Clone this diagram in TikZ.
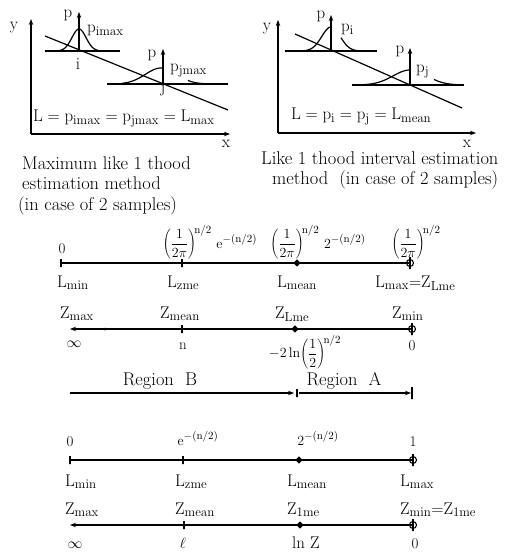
\RequirePackage{fix-cm}
\documentclass[tikz,border=0pt]{standalone}
\usetikzlibrary{arrows.meta,shapes.geometric}
\DeclareMathSizes{17}{17}{13}{10}
\DeclareMathSizes{14}{14}{11}{9}
\newcommand{\dfr}[2]{{\displaystyle\frac{#1}{#2}}}
\tikzset{
 ln/.style={line width=1.2bp},
 ax/.style={line width=1.2bp,-{Stealth[length=6bp,width=4.5bp]}},
 lbl/.style={inner sep=0pt,font=\fontsize{17}{20}\selectfont},
 captxt/.style={inner sep=0pt,font=\fontsize{18.5}{22}\selectfont,anchor=base west},
 fml/.style={inner sep=0pt,font=\fontsize{14}{16}\selectfont},
 num/.style={inner sep=0pt,font=\fontsize{15}{17}\selectfont},
 tk/.style={draw,line width=1.1bp,minimum width=0pt,minimum height=8bp,inner sep=0pt},
 tkl/.style={tk,minimum height=12bp},
 dm/.style={diamond,fill,inner sep=0pt,minimum size=7.5bp},
 cr/.style={circle,draw,line width=1.1bp,inner sep=0pt,minimum size=7bp},
 dt/.style={circle,fill,inner sep=0pt,minimum size=3bp},
}
\begin{document}
\begin{tikzpicture}[x=1bp,y=-1bp]
\useasboundingbox (0,0) rectangle (508,554);
% ---------- panel 1
\coordinate (o1) at (31,134); \coordinate (ye1) at (31,19); \coordinate (xe1) at (230,134);
\draw[ax] (o1)--(ye1); \draw[ax] (o1)--(xe1);
\node[lbl,anchor=base] (y1) at (14,30) {y};
\node[lbl,anchor=base] (x1) at (226,148) {x};
\coordinate (ba1) at (45,51); \coordinate (bb1) at (120,51); \draw[ln] (ba1)--(bb1);
\coordinate (pi) at (79,51); \coordinate (pit) at (79,12); \draw[ax] (pi)--(pit);
\draw[ln] plot[domain=53:107,samples=60,smooth] (\x,{51-22*exp(-((\x-79)/10)*((\x-79)/10))});
\coordinate (la1) at (45,36); \coordinate (lb1) at (228,110); \draw[ln] (la1)--(lb1);
\node[lbl,anchor=base] (p1) at (68,18) {p};
\node[lbl,anchor=base west] (pimax) at (87,33) {$\mathrm{p_{imax}}$};
\node[lbl,anchor=base] (ilab) at (78,70) {i};
\coordinate (ca1) at (107,84); \coordinate (cb1) at (228,84); \draw[ln] (ca1)--(cb1);
\coordinate (pj) at (163,84); \coordinate (pjt) at (163,49); \draw[ax] (pj)--(pjt);
\draw[ln] plot[domain=122:163,samples=40,smooth] (\x,{84-16*exp(-((\x-161)/22)*((\x-161)/22))});
\draw[ln] plot[domain=188:207,samples=20,smooth] (\x,{84-16*exp(-((\x-161)/22)*((\x-161)/22))});
\node[lbl,anchor=base] (p2) at (152,58) {p};
\node[lbl,anchor=base west] (pjmax) at (170,72) {$\mathrm{p_{jmax}}$};
\node[lbl,anchor=base] (jlab) at (163,93) {j};
\node[lbl,anchor=base west] (eq1) at (33,122) {$\mathrm{L=p_{imax}=p_{jmax}=L_{max}}$};
% ---------- panel 2
\coordinate (o2) at (278,133); \coordinate (ye2) at (278,20); \coordinate (xe2) at (476,133);
\draw[ax] (o2)--(ye2); \draw[ax] (o2)--(xe2);
\node[lbl,anchor=base] (y2) at (267,31) {y};
\node[lbl,anchor=base] (x2) at (467,148) {x};
\coordinate (ba2) at (285,51); \coordinate (bb2) at (377,51); \draw[ln] (ba2)--(bb2);
\coordinate (qi) at (331,51); \coordinate (qit) at (331,15); \draw[ax] (qi)--(qit);
\draw[ln] plot[domain=298:331,samples=40,smooth] (\x,{51-24*exp(-((\x-331)/13)*((\x-331)/13))});
\draw[ln] plot[domain=341:361,samples=20,smooth] (\x,{51-24*exp(-((\x-331)/13)*((\x-331)/13))});
\coordinate (la2) at (295,34); \coordinate (lb2) at (462,108); \draw[ln] (la2)--(lb2);
\node[lbl,anchor=base] (p3) at (321,19) {p};
\node[lbl,anchor=base west] (pil) at (341,32) {$\mathrm{p_i}$};
\coordinate (ca2) at (352,85); \coordinate (cb2) at (464,85); \draw[ln] (ca2)--(cb2);
\coordinate (qj) at (410,85); \coordinate (qjt) at (410,48); \draw[ax] (qj)--(qjt);
\draw[ln] plot[domain=364:410,samples=40,smooth] (\x,{85-15*exp(-((\x-410)/24)*((\x-410)/24))});
\draw[ln] plot[domain=434:461,samples=20,smooth] (\x,{85-15*exp(-((\x-410)/24)*((\x-410)/24))});
\node[lbl,anchor=base] (p4) at (400,54) {p};
\node[lbl,anchor=base west] (pjl) at (416,73) {$\mathrm{p_j}$};
\node[lbl,anchor=base west] (eq2) at (291,120) {$\mathrm{L=p_i=p_j=L_{mean}}$};
% ---------- captions
\node[captxt] (c1a) at (22,170) {Maximum like 1 thood};
\node[captxt] (c1b) at (22,190) {estimation method};
\node[captxt] (c1c) at (18,211) {(in case of 2 samples)};
\node[captxt] (c2a) at (261,165) {Like 1 thood interval estimation};
\node[captxt] (c2b) at (272,185) {method\ \ (in case of 2 samples)};
% ---------- line 1
\coordinate (a1) at (61,263); \coordinate (b1) at (182,263); \coordinate (m1) at (297,263); \coordinate (d1) at (410,263);
\draw[ln] (a1)--(d1);
\node[tk] (ta1) at (a1) {}; \node[tk] (tb1) at (b1) {}; \node[dm] (dm1) at (m1) {};
\node[cr] (cr1) at (d1) {}; \node[tkl] (td1) at (d1) {};
\node[num,anchor=base] (z1) at (62,253) {0};
\node[fml,anchor=base] (fa) at (210,248) {$\left(\dfr{1}{2\pi}\right)^{\!\mathrm{n}/2}\,\mathrm{e}^{-(\mathrm{n}/2)}$};
\node[fml,anchor=base] (fb) at (318,248) {$\left(\dfr{1}{2\pi}\right)^{\!\mathrm{n}/2}\,2^{-(\mathrm{n}/2)}$};
\node[fml,anchor=base] (fc) at (416,248) {$\left(\dfr{1}{2\pi}\right)^{\!\mathrm{n}/2}$};
\node[lbl,anchor=base west] (lmin1) at (57,287) {$\mathrm{L_{min}}$};
\node[lbl,anchor=base west] (lzme1) at (167,287) {$\mathrm{L_{zme}}$};
\node[lbl,anchor=base west] (lmean1) at (277,287) {$\mathrm{L_{mean}}$};
\node[lbl,anchor=base west] (lmax1) at (375,287) {$\mathrm{L_{max}{=}Z_{Lme}}$};
% ---------- line 2
\node[lbl,anchor=base west] (zmax1) at (60,318) {$\mathrm{Z_{max}}$};
\node[lbl,anchor=base west] (zmean1) at (160,318) {$\mathrm{Z_{mean}}$};
\node[lbl,anchor=base west] (zlme1) at (275,318) {$\mathrm{Z_{Lme}}$};
\node[lbl,anchor=base west] (zmin1) at (392,318) {$\mathrm{Z_{min}}$};
\coordinate (a2) at (70,329); \coordinate (e2) at (105,329); \coordinate (b2) at (182,329); \coordinate (m2) at (295,329); \coordinate (d2) at (412,329);
\draw[ax] (d2)--(a2);
\node[dt] (dt2) at (e2) {}; \node[tk] (tb2) at (b2) {}; \node[dm] (dm2) at (m2) {};
\node[cr] (cr2) at (d2) {}; \node[tkl] (td2) at (d2) {};
\node[num,anchor=base] (inf1) at (74,347) {$\infty$};
\node[num,anchor=base] (n1) at (183,349) {n};
\node[fml] (fd) at (305,352) {$-2\,\mathrm{ln}\!\left(\dfr{1}{2}\right)^{\!\mathrm{n}/2}$};
\node[num,anchor=base] (z2) at (412,350) {0};
% ---------- regions
\node[lbl,anchor=base,font=\fontsize{18.5}{21}\selectfont] (rb) at (160,385) {Region\ \ B};
\node[lbl,anchor=base,font=\fontsize{18.5}{21}\selectfont] (ra) at (344,385) {Region\ \ A};
\coordinate (r0) at (70,393); \coordinate (r1) at (294,393); \coordinate (rm) at (297,393);
\coordinate (r2) at (299,393); \coordinate (r3) at (411,393); \coordinate (r4) at (412,393);
\draw[ax] (r0)--(r1); \node[tk] (trm) at (rm) {};
\draw[ax] (r2)--(r3); \node[tkl] (tr4) at (r4) {};
% ---------- line 3
\node[num,anchor=base] (z3) at (70,446) {0};
\node[fml,anchor=base] (fe) at (198,445) {$\mathrm{e}^{-(\mathrm{n}/2)}$};
\node[fml,anchor=base] (ff) at (318,445) {$2^{-(\mathrm{n}/2)}$};
\node[num,anchor=base] (o3) at (413,446) {1};
\coordinate (a3) at (70,460); \coordinate (b3) at (183,460); \coordinate (m3) at (299,460); \coordinate (d3) at (413,460);
\draw[ln] (a3)--(d3);
\node[tk] (ta3) at (a3) {}; \node[tk] (tb3) at (b3) {}; \node[dm] (dm3) at (m3) {};
\node[cr] (cr3) at (d3) {}; \node[tkl] (td3) at (d3) {};
\node[lbl,anchor=base west] (lmin2) at (65,486) {$\mathrm{L_{min}}$};
\node[lbl,anchor=base west] (lzme2) at (175,486) {$\mathrm{L_{zme}}$};
\node[lbl,anchor=base west] (lmean2) at (287,486) {$\mathrm{L_{mean}}$};
\node[lbl,anchor=base west] (lmax2) at (400,486) {$\mathrm{L_{max}}$};
% ---------- line 4
\node[lbl,anchor=base west] (zmax2) at (65,514) {$\mathrm{Z_{max}}$};
\node[lbl,anchor=base west] (zmean2) at (175,514) {$\mathrm{Z_{mean}}$};
\node[lbl,anchor=base west] (z1me) at (287,514) {$\mathrm{Z_{1me}}$};
\node[lbl,anchor=base west] (zmin2) at (400,514) {$\mathrm{Z_{min}{=}Z_{1me}}$};
\coordinate (a4) at (70,525); \coordinate (b4) at (184,525); \coordinate (m4) at (300,525); \coordinate (d4) at (413,525);
\draw[ax] (d4)--(a4);
\node[tk] (tb4) at (b4) {}; \node[dm] (dm4) at (m4) {};
\node[cr] (cr4) at (d4) {}; \node[tkl] (td4) at (d4) {};
\node[num,anchor=base] (inf2) at (75,548) {$\infty$};
\node[num,anchor=base] (ell) at (183,548) {$\ell$};
\node[lbl,anchor=base] (lnz) at (306,548) {ln Z};
\node[num,anchor=base] (z4) at (415,548) {0};
\end{tikzpicture}
\end{document}
